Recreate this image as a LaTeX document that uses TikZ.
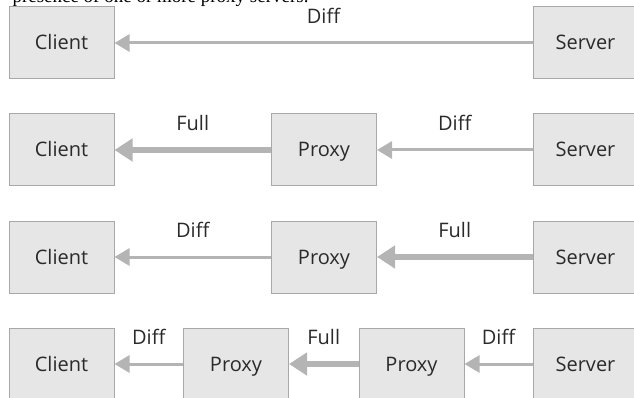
\documentclass[tikz,border=0pt]{standalone}
\usepackage{fontspec}
\setmainfont{Open Sans}
\newfontfamily\captionfont{Liberation Serif}
\usetikzlibrary{arrows.meta}
\definecolor{boxfill}{HTML}{E6E6E6}
\definecolor{boxline}{HTML}{A8A8A8}
\definecolor{arrowgray}{HTML}{B4B4B4}
\definecolor{textgray}{HTML}{2A2A2A}

\begin{document}
\begin{tikzpicture}[x=1pt, y=-1pt,
    box/.style={draw=boxline, line width=1pt, fill=boxfill, minimum width=105pt, minimum height=72pt,
        inner sep=0pt, text=textgray, text height=17pt, text depth=3pt, font=\fontsize{20}{24}\selectfont},
    diff/.style={draw=arrowgray, line width=3pt, -{Triangle[length=15pt, width=17pt]}},
    full/.style={draw=arrowgray, line width=5.5pt, -{Triangle[length=18pt, width=22pt]}},
    lbl/.style={text=textgray, font=\fontsize{20}{24}\selectfont, yshift=27pt}]
    \useasboundingbox (0,0) rectangle (634,398);
    \node[anchor=base west, font=\captionfont\fontsize{19}{22}\selectfont] (cap) at (9,3) {presence of one or more proxy servers.};
    % direct
    \node[box] (c1) at (61.5,43) {Client};
    \node[box] (s1) at (585.5,43) {Server};
    \draw[diff] (s1) -- (c1) node[midway, lbl] {Diff};
    % one proxy, full downstream
    \node[box] (c2) at (61.5,150) {Client};
    \node[box] (p2) at (324,150) {Proxy};
    \node[box] (s2) at (585.5,150) {Server};
    \draw[diff] (s2) -- (p2) node[midway, lbl] {Diff};
    \draw[full] (p2) -- (c2) node[midway, lbl] {Full};
    % one proxy, full upstream
    \node[box] (c3) at (61.5,257) {Client};
    \node[box] (p3) at (324,257) {Proxy};
    \node[box] (s3) at (585.5,257) {Server};
    \draw[full] (s3) -- (p3) node[midway, lbl] {Full};
    \draw[diff] (p3) -- (c3) node[midway, lbl] {Diff};
    % two proxies
    \node[box] (c4) at (61.5,364) {Client};
    \node[box] (pa4) at (236,364) {Proxy};
    \node[box] (pb4) at (411.5,364) {Proxy};
    \node[box] (s4) at (585.5,364) {Server};
    \draw[diff] (s4) -- (pb4) node[midway, lbl] {Diff};
    \draw[full] (pb4) -- (pa4) node[midway, lbl] {Full};
    \draw[diff] (pa4) -- (c4) node[midway, lbl] {Diff};
\end{tikzpicture}
\end{document}
